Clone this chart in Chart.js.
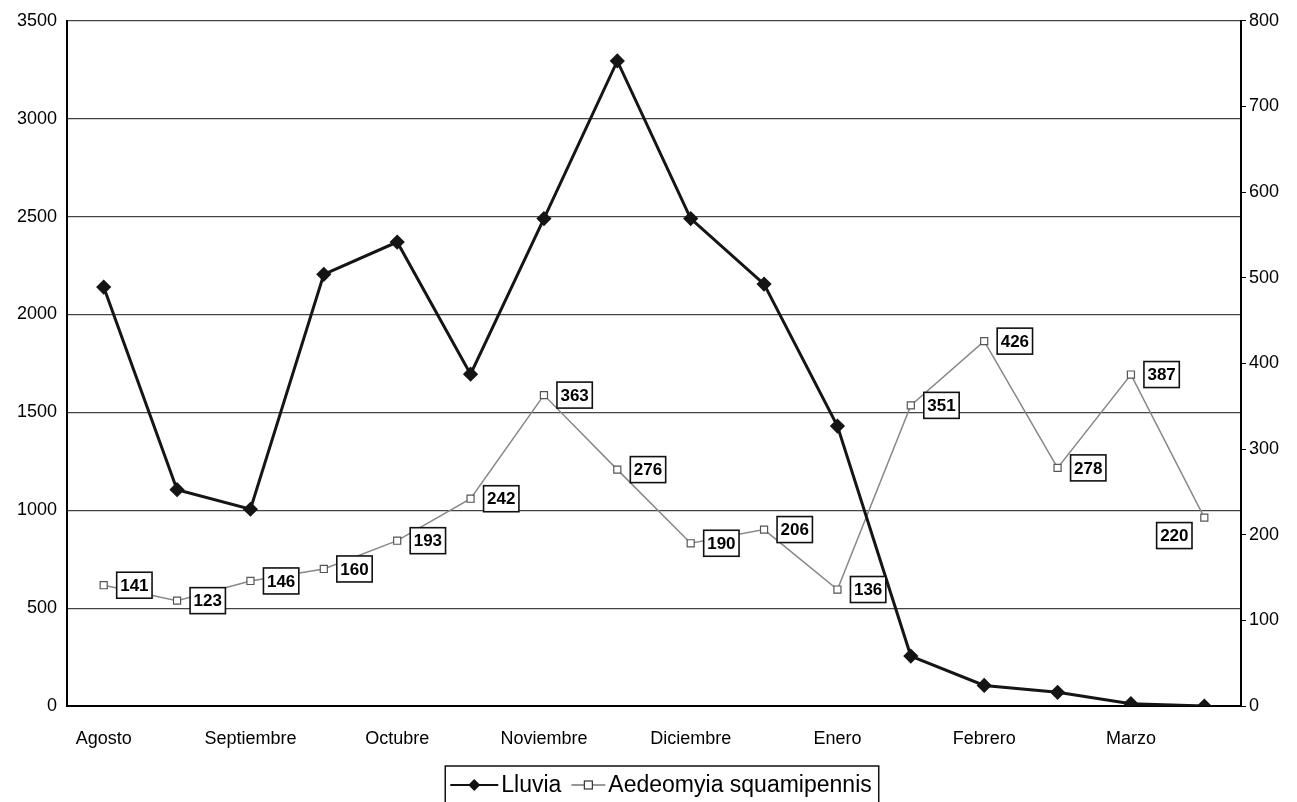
<!DOCTYPE html>
<html>
<head>
<meta charset="utf-8">
<title>Lluvia y Aedeomyia squamipennis</title>
<script src="https://cdn.jsdelivr.net/npm/chart.js@4.4.1/dist/chart.umd.min.js"></script>
<style>
  html, body { margin: 0; padding: 0; background: #fff; }
  #wrap { width: 1297px; height: 802px; }
</style>
</head>
<body>
<div id="wrap"><canvas id="grafico" width="1297" height="802"></canvas></div>
<script>
// quincenas de agosto a marzo, solo se rotula la primera de cada mes
const periodos = ["Agosto", "", "Septiembre", "", "Octubre", "", "Noviembre", "",
                  "Diciembre", "", "Enero", "", "Febrero", "", "Marzo", ""];
// lluvia (eje izquierdo)
const lluvia = [2140, 1105, 1005, 2205, 2370, 1695, 2490, 3295, 2490, 2155, 1430, 255, 105, 70, 12, 0];
// Aedeomyia squamipennis (eje derecho)
const aedeomyia = [141, 123, 146, 160, 193, 242, 363, 276, 190, 206, 136, 351, 426, 278, 387, 220];

const fuente = "'Liberation Sans', Arial, sans-serif";

// etiquetas con recuadro para la serie de mosquitos
const etiquetas = {
  id: "etiquetas",
  afterDatasetsDraw(chart) {
    const ctx = chart.ctx;
    const meta = chart.getDatasetMeta(1);
    ctx.save();
    ctx.font = "bold 17px " + fuente;
    ctx.textAlign = "center";
    ctx.textBaseline = "middle";
    meta.data.forEach((pt, i) => {
      const txt = String(aedeomyia[i]);
      const w = ctx.measureText(txt).width + 7;
      const h = 26;
      let cx = pt.x + 13 + w / 2;
      let cy = pt.y;
      if (i == meta.data.length - 1) { cx = pt.x - 30; cy = pt.y + 18; }
      ctx.fillStyle = "#fff";
      ctx.fillRect(cx - w / 2, cy - h / 2, w, h);
      ctx.strokeStyle = "#111";
      ctx.lineWidth = 1.6;
      ctx.strokeRect(cx - w / 2, cy - h / 2, w, h);
      ctx.fillStyle = "#000";
      ctx.fillText(txt, cx, cy + 1);
    });
    ctx.restore();
  }
};

// leyenda con recuadro debajo del grafico
const leyenda = {
  id: "leyenda",
  afterDraw(chart) {
    const ctx = chart.ctx;
    const y = 785;
    ctx.save();
    ctx.font = "23px " + fuente;
    const t1 = "Lluvia", t2 = "Aedeomyia squamipennis";
    const w1 = ctx.measureText(t1).width, w2 = ctx.measureText(t2).width;
    const s1 = 48, s2 = 34;
    const total = s1 + 3 + w1 + 10 + s2 + 3 + w2;
    const cx = 661;
    let x = cx - total / 2;
    ctx.strokeStyle = "#111";
    ctx.lineWidth = 1.5;
    ctx.strokeRect(x - 5, 766, total + 12, 40);
    // lluvia
    ctx.strokeStyle = "#111";
    ctx.lineWidth = 2;
    ctx.beginPath(); ctx.moveTo(x, y); ctx.lineTo(x + s1, y); ctx.stroke();
    ctx.fillStyle = "#111";
    ctx.beginPath();
    ctx.moveTo(x + s1 / 2, y - 6); ctx.lineTo(x + s1 / 2 + 6, y);
    ctx.lineTo(x + s1 / 2, y + 6); ctx.lineTo(x + s1 / 2 - 6, y);
    ctx.closePath(); ctx.fill();
    x += s1 + 3;
    ctx.textBaseline = "middle";
    ctx.fillStyle = "#000";
    ctx.fillText(t1, x, y + 1);
    x += w1 + 10;
    // mosquitos
    ctx.strokeStyle = "#333";
    ctx.lineWidth = 1.2;
    ctx.beginPath(); ctx.moveTo(x, y); ctx.lineTo(x + s2, y); ctx.stroke();
    ctx.fillStyle = "#fff";
    ctx.fillRect(x + s2 / 2 - 4, y - 4, 8, 8);
    ctx.strokeRect(x + s2 / 2 - 4, y - 4, 8, 8);
    x += s2 + 3;
    ctx.fillStyle = "#000";
    ctx.fillText(t2, x, y + 1);
    ctx.restore();
  }
};

new Chart("grafico", {
  type: "line",
  data: {
    labels: periodos,
    datasets: [{
      label: "Lluvia",
      data: lluvia,
      yAxisID: "y",
      borderColor: "#151515",
      borderWidth: 3,
      pointStyle: "rectRot",
      pointRadius: 5.5,
      pointBackgroundColor: "#151515",
      pointBorderColor: "#151515",
      tension: 0
    }, {
      label: "Aedeomyia squamipennis",
      data: aedeomyia,
      yAxisID: "y1",
      borderColor: "#888",
      borderWidth: 1.5,
      pointStyle: "rect",
      pointRadius: 5,
      pointBackgroundColor: "#fff",
      pointBorderColor: "#555",
      pointBorderWidth: 1.2,
      tension: 0
    }]
  },
  options: {
    responsive: false,
    animation: false,
    layout: { padding: { top: 18, bottom: 46, left: 0, right: 0 } },
    plugins: {
      legend: { display: false },
      tooltip: { enabled: false }
    },
    scales: {
      x: {
        offset: true,
        grid: { display: false, offset: true },
        border: { display: true, color: "#000", width: 2 },
        ticks: { autoSkip: false, maxRotation: 0, padding: 14, color: "#000", font: { family: fuente, size: 18 } },
        afterFit(s) { s.height = 50; }
      },
      y: {
        position: "left",
        min: 0, max: 3500,
        ticks: { stepSize: 500, padding: 10, color: "#000", font: { family: fuente, size: 18 }, callback: v => String(v) },
        grid: { color: "#444", lineWidth: 1.2, drawTicks: false },
        border: { color: "#000", width: 2 },
        afterFit(s) { s.width = 67; }
      },
      y1: {
        position: "right",
        min: 0, max: 800,
        ticks: { stepSize: 100, padding: 3, color: "#000", font: { family: fuente, size: 18 }, callback: v => String(v) },
        grid: { drawOnChartArea: false, drawTicks: true, tickLength: 5, color: "#000" },
        border: { color: "#000", width: 2 },
        afterFit(s) { s.width = 56; }
      }
    }
  },
  plugins: [etiquetas, leyenda]
});
</script>
</body>
</html>
